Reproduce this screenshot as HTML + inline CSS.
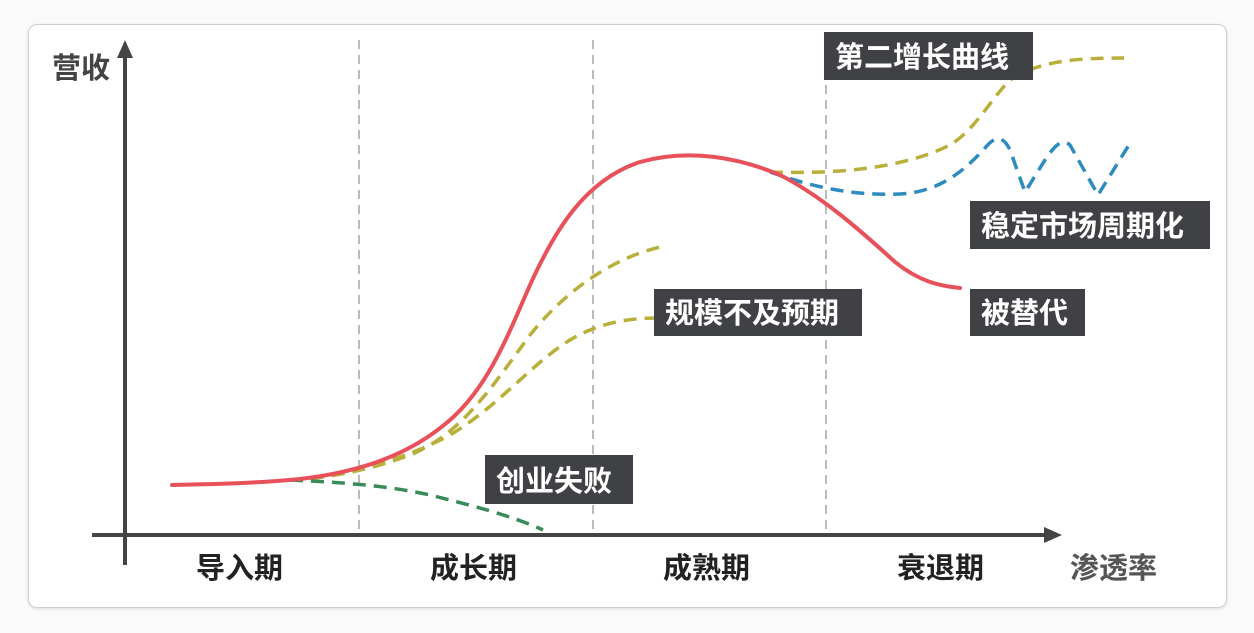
<!DOCTYPE html>
<html><head><meta charset="utf-8"><style>
html,body{margin:0;padding:0;background:#fafafa;}
body{width:1254px;height:633px;position:relative;overflow:hidden;font-family:"Liberation Sans","Noto Sans CJK SC",sans-serif;}
.card{position:absolute;left:28px;top:24px;width:1197px;height:582px;background:#fff;border:1px solid #d0d0d0;border-radius:9px;box-shadow:0 1px 3px rgba(0,0,0,0.12);}
svg{position:absolute;left:0;top:0;}
</style></head><body>
<div class="card"></div>
<svg width="1254" height="633" viewBox="0 0 1254 633" font-family="Liberation Sans, Noto Sans CJK SC, sans-serif" font-weight="bold">
<g stroke="#bbb" stroke-width="2" stroke-dasharray="9,6">
<line x1="359" y1="40" x2="359" y2="533"/>
<line x1="593" y1="40" x2="593" y2="533"/>
<line x1="826" y1="40" x2="826" y2="533"/>
</g>
<g stroke="#444" stroke-width="4" fill="none">
<line x1="125" y1="50" x2="125" y2="565"/>
<line x1="92" y1="535" x2="1050" y2="535"/>
</g>
<polygon points="125,40 117,58 133,58" fill="#444"/>
<polygon points="1062,535 1044,527 1044,543" fill="#444"/>
<g fill="none" stroke-width="3.5" stroke-dasharray="13,8">
<path d="M290,480 C330,478 370,470 410,455 C460,435 490,390 530,335 C570,285 620,255 665,246" stroke="#b8b03a"/>
<path d="M290,480 C340,476 400,462 450,435 C500,405 530,365 570,340 C600,322 630,318 660,318" stroke="#b8b03a"/>
<path d="M290,480 C330,482 380,484 430,495 C470,505 510,515 543,530" stroke="#3a8a5a"/>
<path d="M770,172 C830,174 900,170 950,145 C975,130 990,100 1010,80 C1040,60 1080,58 1124,58" stroke="#b8b03a"/>
<path d="M770,172 C810,186 850,196 900,194 C940,192 965,170 985,148 C995,136 1003,135 1010,150 L1025,192 L1045,160 C1055,145 1062,138 1070,145 L1098,195 L1132,140" stroke="#2e8bc0"/>
</g>
<path d="M172,485 C220,484 260,483 300,479 C360,472 410,455 450,420 C490,385 510,330 530,285 C555,230 585,180 640,162 C690,148 740,158 780,175 C820,195 860,230 895,262 C920,282 940,286 960,288" fill="none" stroke="#e8505a" stroke-width="4" stroke-linecap="round"/>
<g fill="#3f4144">
<rect x="824" y="32" width="209" height="48"/>
<rect x="970" y="201" width="240" height="48"/>
<rect x="970" y="289" width="115" height="47"/>
<rect x="654" y="289" width="208" height="47"/>
<rect x="485" y="455" width="148" height="49"/>
</g>
<g fill="#fff" font-size="29">
<text x="835" y="67">第二增长曲线</text>
<text x="981" y="236">稳定市场周期化</text>
<text x="981" y="323">被替代</text>
<text x="665" y="323">规模不及预期</text>
<text x="496" y="491">创业失败</text>
</g>
<g fill="#222" font-size="29">
<text x="52" y="78" fill="#444">营收</text>
<text x="196" y="578">导入期</text>
<text x="430" y="578">成长期</text>
<text x="663" y="578">成熟期</text>
<text x="897" y="578">衰退期</text>
<text x="1070" y="578" fill="#555">渗透率</text>
</g>
</svg>
</body></html>
